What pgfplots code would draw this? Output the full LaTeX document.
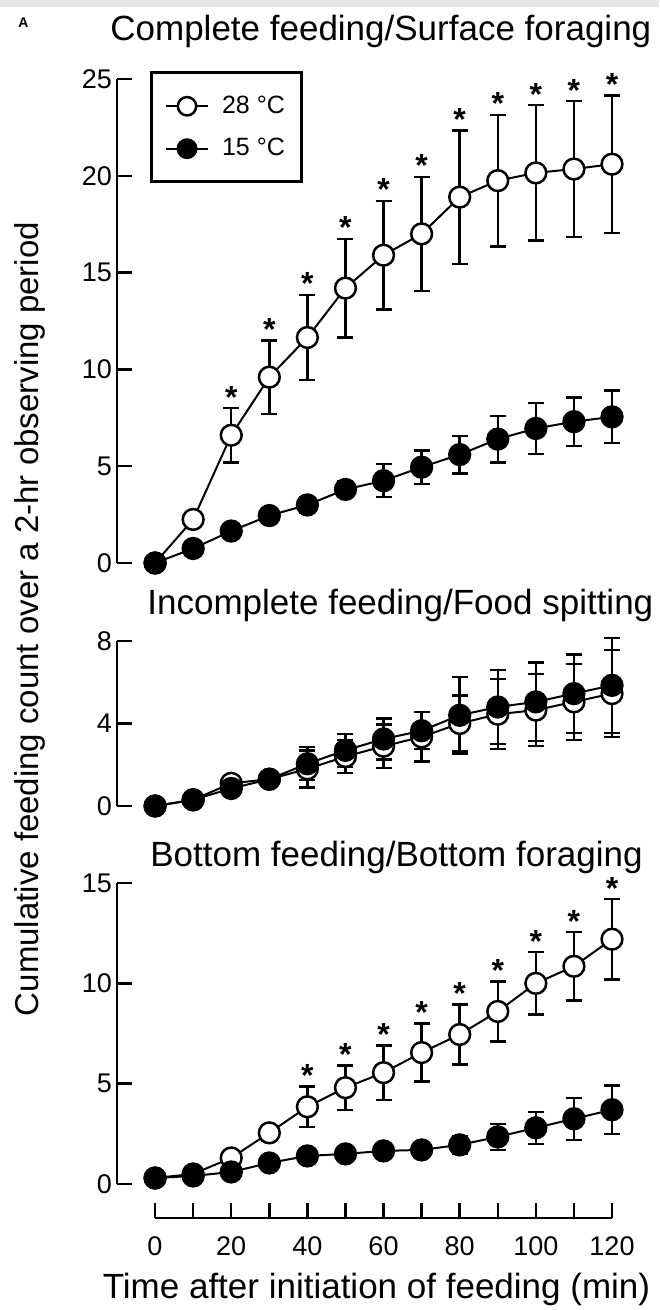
\documentclass[border=0pt]{standalone}
\usepackage{fontspec}
\setmainfont{Liberation Sans}
\usepackage{pgfplots}
\usepackage{pgfplotstable}
\pgfplotsset{compat=1.18}

% x = minutes, y = mean count, e = error
\pgfplotstableread{
x y e
0 0 0
10 2.25 0.3
20 6.6 1.4
30 9.6 1.9
40 11.65 2.2
50 14.2 2.55
60 15.9 2.8
70 17.0 2.95
80 18.9 3.45
90 19.75 3.4
100 20.15 3.5
110 20.35 3.5
120 20.6 3.55
}\topA
\pgfplotstableread{
x y e
0 0 0
10 0.75 0.3
20 1.65 0.3
30 2.45 0.35
40 3.0 0.4
50 3.8 0.4
60 4.25 0.85
70 4.95 0.87
80 5.6 0.97
90 6.4 1.2
100 6.95 1.33
110 7.3 1.25
120 7.55 1.35
}\topB
\pgfplotstableread{
x y e
0 0 0
10 0.3 0.2
20 1.1 0.3
30 1.3 0.3
40 1.8 0.9
50 2.4 0.8
60 2.9 1.05
70 3.35 1.2
80 4.0 1.35
90 4.45 1.7
100 4.65 1.75
110 5.05 1.85
120 5.45 2.1
}\midA
\pgfplotstableread{
x y e
0 0 0
10 0.3 0.2
20 0.85 0.3
30 1.3 0.3
40 2.05 0.8
50 2.7 0.8
60 3.25 1.0
70 3.65 0.9
80 4.4 1.85
90 4.8 1.8
100 5.05 1.9
110 5.45 1.9
120 5.85 2.3
}\midB
\pgfplotstableread{
x y e
0 0.3 0
10 0.5 0.2
20 1.3 0.3
30 2.55 0.4
40 3.85 1.0
50 4.8 1.1
60 5.55 1.35
70 6.55 1.45
80 7.45 1.5
90 8.6 1.5
100 10.0 1.55
110 10.85 1.7
120 12.2 2.0
}\botA
\pgfplotstableread{
x y e
0 0.3 0
10 0.4 0.2
20 0.6 0.2
30 1.05 0.3
40 1.4 0.3
50 1.5 0.3
60 1.65 0.3
70 1.7 0.3
80 1.95 0.45
90 2.35 0.65
100 2.8 0.8
110 3.25 1.05
120 3.7 1.2
}\botB

\pgfplotsset{
  panel/.style={scale only axis, anchor=south west, width=247.5pt,
    xmin=-10, xmax=120, clip=false,
    axis x line=none, axis y line=left,
    axis line style={-, line width=1.25pt},
    tick align=inside, major tick length=7.5pt,
    tick style={line width=1.25pt, black},
    ticklabel style={font=\fontsize{13.5}{15}\selectfont},
    /pgf/number format/assume math mode=true,
    yticklabel style={xshift=1pt}},
  open/.style={black, line width=1pt, mark=*, mark size=5.2pt,
    mark options={fill=white, line width=1.25pt},
    error bars/.cd, y dir=both, y explicit,
    error bar style={line width=1.2pt},
    error mark options={rotate=90, line width=1.2pt, mark size=4pt}},
  filled/.style={black, line width=1pt, mark=*, mark size=5.2pt,
    mark options={fill=black, line width=1.25pt},
    error bars/.cd, y dir=both, y explicit,
    error bar style={line width=1.2pt},
    error mark options={rotate=90, line width=1.2pt, mark size=4pt}},
  stars/.style={forget plot, draw=none, mark=none,
    nodes near coords={*},
    every node near coord/.append style={anchor=center, yshift=5.5pt,
      font=\bfseries\fontsize{16}{16}\selectfont}},
}

\begin{document}
\begin{tikzpicture}
\fill[white] (0,0) rectangle (329.5pt,-655pt);
\fill[black!10] (0,0) rectangle (329.5pt,-3.5pt);
\useasboundingbox (0,0) rectangle (329.5pt,-655pt);

\node[inner sep=0pt, anchor=base west, font=\bfseries\fontsize{7}{8}\selectfont] at (9pt,-14pt) {A};
\node[inner sep=0pt, anchor=base west, font=\fontsize{17.5}{20}\selectfont] at (55pt,-20.5pt) {Complete feeding/Surface foraging};
\node[inner sep=0pt, anchor=base west, font=\fontsize{17.5}{20}\selectfont] at (73.5pt,-307pt) {Incomplete feeding/Food spitting};
\node[inner sep=0pt, anchor=base west, font=\fontsize{17.5}{20}\selectfont] at (75pt,-433pt) {Bottom feeding/Bottom foraging};
\node[inner sep=0pt, rotate=90, anchor=base, font=\fontsize{16.5}{18}\selectfont] at (19pt,-309.5pt) {Cumulative feeding count over a 2-hr observing period};

% top panel
\begin{axis}[panel, at={(58.5pt,-281.5pt)}, height=242pt,
  ymin=0, ymax=25, ytick={0,5,...,25},
  legend style={at={(0.0657,1.0155)}, anchor=north west, draw=black,
    line width=1.5pt, font=\fontsize{12.5}{14}\selectfont,
    inner xsep=7pt, inner ysep=10pt, row sep=8pt, column sep=5pt,
    nodes={inner sep=1.5pt}},
  legend cell align=left,
  legend image code/.code={\draw[mark repeat=2, mark phase=2, mark size=4.6pt]
    plot coordinates {(0pt,0pt) (10.5pt,0pt) (21pt,0pt)};}]
\addplot[open] table[x=x, y=y, y error=e] {\topA};
\addlegendentry{28 °C}
\addplot[filled] table[x=x, y=y, y error=e] {\topB};
\addlegendentry{15 °C}
\addplot[stars] table[x=x, y expr=\thisrow{y}+\thisrow{e}, restrict x to domain=15:130] {\topA};
\end{axis}

% middle panel
\begin{axis}[panel, at={(58.5pt,-403pt)}, height=82.5pt,
  ymin=0, ymax=8, ytick={0,4,8}]
\addplot[open] table[x=x, y=y, y error=e] {\midA};
\addplot[filled] table[x=x, y=y, y error=e] {\midB};
\end{axis}

% bottom panel
\begin{axis}[panel, at={(58.5pt,-592pt)}, height=150.5pt,
  ymin=0, ymax=15, ytick={0,5,10,15}]
\addplot[open] table[x=x, y=y, y error=e] {\botA};
\addplot[filled] table[x=x, y=y, y error=e] {\botB};
\addplot[stars] table[x=x, y expr=\thisrow{y}+\thisrow{e}, restrict x to domain=35:130] {\botA};
\end{axis}

% shared x axis
\begin{axis}[scale only axis, anchor=south west, at={(77.5pt,-609pt)},
  width=228.5pt, height=20pt, xmin=0, xmax=120, ymin=0, ymax=1,
  axis x line=bottom, axis y line=none,
  axis line style={-, line width=1.25pt},
  xtick={0,10,...,120}, xticklabels={0,,20,,40,,60,,80,,100,,120},
  tick align=inside, major tick length=7.5pt,
  tick style={line width=1.25pt, black},
  xticklabel style={font=\fontsize{13.5}{15}\selectfont, anchor=base, yshift=-18.5pt},
  xlabel={Time after initiation of feeding (min)},
  xlabel style={font=\fontsize{17.5}{20}\selectfont, at={(axis description cs:0.4847,0)}, anchor=base, yshift=-40pt}]
\end{axis}
\end{tikzpicture}
\end{document}
